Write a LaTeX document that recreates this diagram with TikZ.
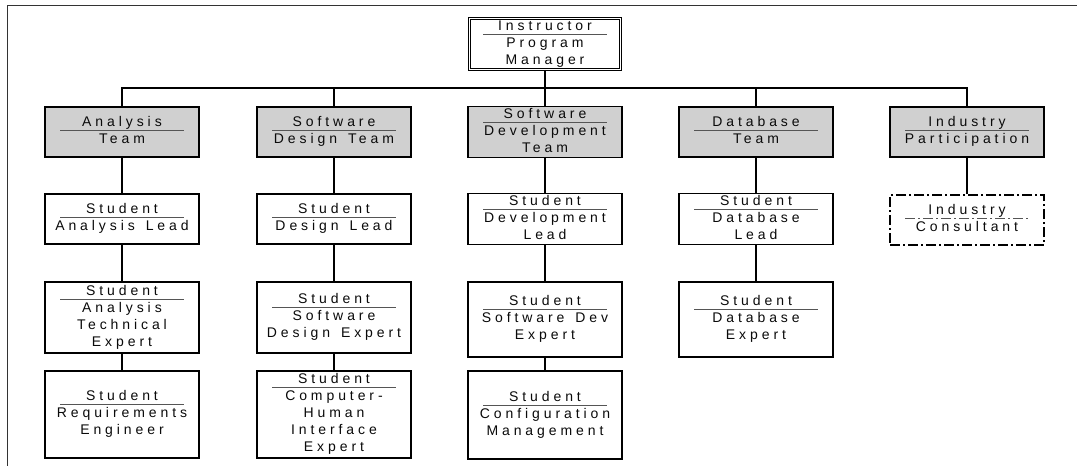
\documentclass[tikz,border=0pt]{standalone}
\usepackage{fontspec}
\setmainfont{Liberation Sans}[LetterSpace=28,WordSpace=1.4]
\usetikzlibrary{calc}
\definecolor{teamgray}{RGB}{208,208,208}
\definecolor{sepgray}{RGB}{85,85,85}
\definecolor{txt}{RGB}{10,10,10}
\newcommand{\sepline}[3][]{\draw[seprule,#1] ($(#2.center)+(-62,{-8.5*(#3-2)-1.5})$) -- ++(124,0);}
\tikzset{
  unitbox/.style={draw=black, line width=1.3pt, minimum width=154pt, inner sep=0pt,
    align=center, text=txt, font=\fontsize{14}{17}\selectfont},
  teambox/.style={unitbox, fill=teamgray, minimum height=50pt},
  studbox/.style={unitbox, fill=white},
  pmbox/.style={unitbox, line width=0.8pt, double=white, double distance=1.5pt,
    minimum width=151pt, minimum height=47pt},
  dashbox/.style={unitbox, line width=1.1pt, dash pattern=on 10pt off 3pt on 2pt off 3pt},
  seprule/.style={draw=sepgray, line width=1pt},
  conn/.style={draw=black, line width=1.3pt},
  frameline/.style={draw=black!80, line width=1pt}
}
\begin{document}
\begin{tikzpicture}[x=1pt,y=-1pt]
\useasboundingbox (0,0) rectangle (1077,466);
\draw[frameline] (7,466) -- (7,5) -- (1077,5);

% top
\node[pmbox] (pm) at (545,44) {\strut Instructor\\\strut Program\\\strut Manager};
% teams
\node[teambox] (at) at (122,132) {\strut Analysis\\\strut Team};
\node[teambox] (dt) at (334,132) {\strut Software\\\strut Design Team};
\node[teambox] (vt) at (545,132) {\strut Software\\\strut Development\\\strut Team};
\node[teambox] (bt) at (756,132) {\strut Database\\\strut Team};
\node[teambox] (it) at (967,132) {\strut Industry\\\strut Participation};
% leads
\node[studbox, minimum height=50pt] (al) at (122,219) {\strut Student\\\strut Analysis Lead};
\node[studbox, minimum height=50pt] (dl) at (334,219) {\strut Student\\\strut Design Lead};
\node[studbox, minimum height=50pt] (vl) at (545,219) {\strut Student\\\strut Development\\\strut Lead};
\node[studbox, minimum height=50pt] (bl) at (756,219) {\strut Student\\\strut Database\\\strut Lead};
\node[dashbox, minimum height=50pt] (ic) at (967,220) {\strut Industry\\\strut Consultant};
% experts
\node[studbox, minimum height=71pt] (ae) at (122,317.5) {\strut Student\\\strut Analysis\\\strut Technical\\\strut Expert};
\node[studbox, minimum height=71pt] (de) at (334,317.5) {\strut Student\\\strut Software\\\strut Design Expert};
\node[studbox, minimum height=75pt] (ve) at (545,319.5) {\strut Student\\\strut Software Dev\\\strut Expert};
\node[studbox, minimum height=75pt] (be) at (756,319.5) {\strut Student\\\strut Database\\\strut Expert};
% bottom row
\node[studbox, minimum height=87pt] (ar) at (122,414.5) {\strut Student\\\strut Requirements\\\strut Engineer};
\node[studbox, minimum height=87pt] (dc) at (334,414.5) {\strut Student\\\strut Computer-\\\strut Human\\\strut Interface\\\strut Expert};
\node[studbox, minimum height=88pt] (vc) at (545,415) {\strut Student\\\strut Configuration\\\strut Management};

% separators
\sepline{pm}{3}
\sepline{at}{2}\sepline{dt}{2}\sepline{vt}{3}\sepline{bt}{2}\sepline{it}{2}
\sepline{al}{2}\sepline{dl}{2}\sepline{vl}{3}\sepline{bl}{3}
\sepline[dash pattern=on 10pt off 3pt on 2pt off 3pt]{ic}{2}
\sepline{ae}{4}\sepline{de}{3}\sepline{ve}{3}\sepline{be}{3}
\sepline{ar}{3}\sepline{dc}{5}\sepline{vc}{3}

% connectors
\coordinate (busL) at (122,88);
\coordinate (busR) at (967,88);
\draw[conn] (at.north) -- (busL) -- (busR) -- (it.north);
\draw[conn] (pm.south) -- (pm.south |- busL);
\draw[conn] (dt.north) -- (dt.north |- busL);
\draw[conn] (vt.north) -- (vt.north |- busL);
\draw[conn] (bt.north) -- (bt.north |- busL);
\draw[conn] (at.south) -- (al.north);
\draw[conn] (al.south) -- (ae.north);
\draw[conn] (ae.south) -- (ar.north);
\draw[conn] (dt.south) -- (dl.north);
\draw[conn] (dl.south) -- (de.north);
\draw[conn] (de.south) -- (dc.north);
\draw[conn] (vt.south) -- (vl.north);
\draw[conn] (vl.south) -- (ve.north);
\draw[conn] (ve.south) -- (vc.north);
\draw[conn] (bt.south) -- (bl.north);
\draw[conn] (bl.south) -- (be.north);
\draw[conn] (it.south) -- (ic.north);
\end{tikzpicture}
\end{document}
